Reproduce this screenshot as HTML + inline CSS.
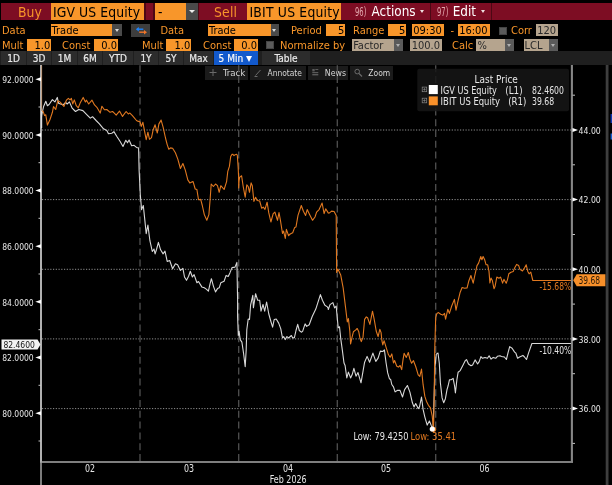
<!DOCTYPE html>
<html><head><meta charset="utf-8"><title>Chart</title>
<style>
html,body{margin:0;padding:0;background:#000;}
body{width:612px;height:485px;position:relative;overflow:hidden;font-family:"DejaVu Sans Condensed","DejaVu Sans","Liberation Sans",sans-serif;color:#fff;}
.a{position:absolute;white-space:nowrap;}
.o{color:#f8962a;}
.ob{background:#f8962a;color:#000;}
.gb{background:#b5a48e;color:#2a2a2a;}
.dd{background:#4a4a4a;}
.t1{font-size:13.8px;line-height:19px;height:17.6px;top:2.7px;}
.t2{font-size:11px;line-height:14px;height:12px;}
.r3{line-height:13px;}
.tab{font-size:10px;line-height:15.4px;height:13.8px;top:51.3px;overflow:hidden;-webkit-text-stroke:0.2px #e8e8e8;color:#e8e8e8;text-align:center;}
.tb{font-size:8px;line-height:12px;height:12px;top:67px;color:#ddd;background:#1c1c1c;}
svg text{font-family:"DejaVu Sans Condensed","DejaVu Sans","Liberation Sans",sans-serif;}
</style></head><body>

<div class="a" style="left:1px;top:2.7px;width:611px;height:17.6px;background:#7d0d23;"></div>
<div class="a" style="left:144px;top:2.7px;width:1.6px;height:17.6px;background:#4c0814;"></div>
<div class="a" style="left:153.4px;top:2.7px;width:1.6px;height:17.6px;background:#4c0814;"></div>
<div class="a" style="left:197.6px;top:2.7px;width:1.6px;height:17.6px;background:#4c0814;"></div>
<div class="a" style="left:430.2px;top:2.7px;width:1.2px;height:17.6px;background:#4c0814;"></div>
<div class="a" style="left:491px;top:2.7px;width:1.2px;height:17.6px;background:#4c0814;"></div>
<div class="a t1 o" style="left:18px;">Buy</div>
<div class="a t1 ob" style="left:50.6px;width:93.4px;"><span style="padding-left:2.4px;letter-spacing:0.1px">IGV US Equity</span></div>
<div class="a t1 ob" style="left:155px;width:30.6px;"><span style="padding-left:3px">-</span></div>
<div class="a t1 dd" style="left:185.6px;width:12px;"><span class="a" style="left:3px;top:7.5px;border:3px solid transparent;border-top:3.5px solid #eee;border-bottom:0;"></span></div>
<div class="a t1 o" style="left:214px;letter-spacing:0.2px">Sell</div>
<div class="a t1 ob" style="left:246.5px;width:94.6px;"><span style="padding-left:3px;letter-spacing:0.2px">IBIT US Equity</span></div>
<div class="a t1" style="left:355.2px;top:2px;color:#e4a8ae;font-size:13px;transform:scaleX(0.58);transform-origin:0 0;">96)</div>
<div class="a t1" style="left:371.6px;top:2px;font-size:13.4px;">Actions</div>
<div class="a" style="left:420.4px;top:10.2px;border:2.3px solid transparent;border-top:3px solid #f0e0e0;border-bottom:0;"></div>
<div class="a t1" style="left:436.7px;top:2px;color:#e4a8ae;font-size:13px;transform:scaleX(0.58);transform-origin:0 0;">97)</div>
<div class="a t1" style="left:452.7px;top:2px;font-size:13.4px;">Edit</div>
<div class="a" style="left:481px;top:10.2px;border:2.3px solid transparent;border-top:3px solid #f0e0e0;border-bottom:0;"></div>
<div class="a t2 o" style="left:2px;top:24.2px;">Data</div>
<div class="a t2 ob" style="left:50.6px;top:24.2px;width:61.6px;height:12px;text-align:left;box-sizing:border-box;padding-left:1px;">Trade</div>
<div class="a" style="left:112.2px;top:24.2px;width:9.8px;height:12px;background:#4a4a4a;"><span class="a" style="left:2.4px;top:5px;border:2.5px solid transparent;border-top:3px solid #ddd;border-bottom:0;"></span></div>
<div class="a" style="left:131px;top:24.2px;width:19.4px;height:12.4px;background:#3d3d3d;"><svg style="display:block" width="19.4" height="12.4" viewBox="0 0 19.4 12.4"><path d="M6.5 5.2H12.3" stroke="#1e86ff" stroke-width="1.4" fill="none"/><path d="M4.8 5.2l3-2.3v4.6z" fill="#1e86ff"/><path d="M8.2 8.2H14" stroke="#f0762a" stroke-width="1.4" fill="none"/><path d="M16 8.2l-3-2.3v4.6z" fill="#f0762a"/></svg></div>
<div class="a t2 o" style="left:160.4px;top:24.2px;">Data</div>
<div class="a t2 ob" style="left:208px;top:24.2px;width:62.7px;height:12px;text-align:left;box-sizing:border-box;padding-left:1px;">Trade</div>
<div class="a" style="left:270.7px;top:24.2px;width:8.3px;height:12px;background:#4a4a4a;"><span class="a" style="left:1.65px;top:5px;border:2.5px solid transparent;border-top:3px solid #ddd;border-bottom:0;"></span></div>
<div class="a t2 o" style="left:291px;top:24.2px;">Period</div>
<div class="a t2 ob" style="left:326.4px;top:24.2px;width:19px;height:12px;text-align:right;box-sizing:border-box;padding-right:1px;">5</div>
<div class="a t2 o" style="left:353px;top:24.2px;">Range</div>
<div class="a t2 ob" style="left:387.5px;top:24.2px;width:18.8px;height:12px;text-align:right;box-sizing:border-box;padding-right:1px;">5</div>
<div class="a t2 ob" style="left:411.7px;top:24.2px;width:32.7px;height:12px;text-align:center;box-sizing:border-box;padding-right:1px;">09:30</div>
<div class="a t2 o" style="left:450.5px;top:24.2px;">-</div>
<div class="a t2 ob" style="left:457.5px;top:24.2px;width:32.8px;height:12px;text-align:center;box-sizing:border-box;padding-right:1px;">16:00</div>
<div class="a" style="left:498.6px;top:27px;width:8px;height:8px;background:#5a5a5a;border:1px solid #444;box-sizing:border-box;"></div>
<div class="a t2 o" style="left:511px;top:24.2px;">Corr</div>
<div class="a t2 gb" style="left:536px;top:24.2px;width:22.3px;height:12px;text-align:center;box-sizing:border-box;padding-right:1px;">120</div>
<div class="a t2 o r3" style="left:2px;top:38.7px;">Mult</div>
<div class="a t2 ob r3" style="left:27px;top:38.7px;width:24.3px;height:12px;text-align:right;box-sizing:border-box;padding-right:1px;">1.0</div>
<div class="a t2 o r3" style="left:62px;top:38.7px;">Const</div>
<div class="a t2 ob r3" style="left:94px;top:38.7px;width:24px;height:12px;text-align:right;box-sizing:border-box;padding-right:1px;">0.0</div>
<div class="a t2 o r3" style="left:142px;top:38.7px;">Mult</div>
<div class="a t2 ob r3" style="left:166.3px;top:38.7px;width:25px;height:12px;text-align:right;box-sizing:border-box;padding-right:1px;">1.0</div>
<div class="a t2 o r3" style="left:203px;top:38.7px;">Const</div>
<div class="a t2 ob r3" style="left:234px;top:38.7px;width:24px;height:12px;text-align:right;box-sizing:border-box;padding-right:1px;">0.0</div>
<div class="a" style="left:266.2px;top:40.5px;width:8px;height:8px;background:#5a5a5a;border:1px solid #444;box-sizing:border-box;"></div>
<div class="a t2 o r3" style="left:280px;top:38.7px;">Normalize by</div>
<div class="a t2 gb r3" style="left:352.2px;top:38.7px;width:42.2px;height:12px;text-align:left;box-sizing:border-box;padding-left:1px;">Factor</div>
<div class="a" style="left:394.4px;top:38.7px;width:9px;height:12px;background:#5a5a5a;"><span class="a" style="left:2px;top:5px;border:2.5px solid transparent;border-top:3px solid #b0b0b0;border-bottom:0;"></span></div>
<div class="a t2 gb r3" style="left:410.3px;top:38.7px;width:32px;height:12px;text-align:center;box-sizing:border-box;padding-right:1px;">100.0</div>
<div class="a t2 o r3" style="left:452px;top:38.7px;">Calc</div>
<div class="a t2 gb r3" style="left:476.4px;top:38.7px;width:28.6px;height:12px;text-align:left;box-sizing:border-box;padding-left:1px;">%</div>
<div class="a" style="left:505px;top:38.7px;width:9px;height:12px;background:#5a5a5a;"><span class="a" style="left:2px;top:5px;border:2.5px solid transparent;border-top:3px solid #b0b0b0;border-bottom:0;"></span></div>
<div class="a t2 gb r3" style="left:523.6px;top:38.7px;width:25.8px;height:12px;text-align:left;box-sizing:border-box;padding-left:1px;">LCL</div>
<div class="a" style="left:549.4px;top:38.7px;width:9px;height:12px;background:#5a5a5a;"><span class="a" style="left:2px;top:5px;border:2.5px solid transparent;border-top:3px solid #b0b0b0;border-bottom:0;"></span></div>
<div class="a" style="left:0;top:51.3px;width:612px;height:13.8px;background:#1f1f1f;"></div>
<div class="a tab" style="left:1px;width:25px;background:#2c2c2c;">1D</div>
<div class="a tab" style="left:27px;width:24px;background:#2c2c2c;">3D</div>
<div class="a tab" style="left:52px;width:25px;background:#2c2c2c;">1M</div>
<div class="a tab" style="left:78px;width:24px;background:#2c2c2c;">6M</div>
<div class="a tab" style="left:103px;width:30px;background:#2c2c2c;">YTD</div>
<div class="a tab" style="left:134px;width:24px;background:#2c2c2c;">1Y</div>
<div class="a tab" style="left:159px;width:24px;background:#2c2c2c;">5Y</div>
<div class="a tab" style="left:184px;width:29px;background:#2c2c2c;">Max</div>
<div class="a tab" style="left:214.4px;width:43.2px;background:#1259cc;color:#fff;text-align:left;"><span style="padding-left:4.2px">5 Min</span><span class="a" style="left:32px;top:4.4px;border:3.5px solid transparent;border-top:6px solid #fff;border-bottom:0;"></span></div>
<div class="a tab" style="left:262px;width:48px;background:#2c2c2c;">Table</div>
<div class="a" style="left:205px;top:66px;width:42.8px;height:13.6px;background:#1b1b1b;"></div>
<div class="a" style="left:249.8px;top:66px;width:56.2px;height:13.6px;background:#1b1b1b;"></div>
<div class="a" style="left:307.8px;top:66px;width:40.4px;height:13.6px;background:#1b1b1b;"></div>
<div class="a" style="left:349.8px;top:66px;width:43.2px;height:13.6px;background:#1b1b1b;"></div>
<svg class="a" style="left:0;top:0" width="612" height="485" viewBox="0 0 612 485">
<g stroke="#6a6a6a" stroke-width="1" fill="none"><path d="M213 69v7M209.5 72.5h7"/><path d="M255.5 75.5l5-5.5M254.5 76.5h3"/><circle cx="357.2" cy="71.6" r="2.3"/><path d="M359 73.5l3 3" stroke-width="1.3"/></g>
<g fill="#5a5a5a"><rect x="312.3" y="69" width="2.4" height="2.4"/><rect x="315.3" y="69" width="3" height="1"/><rect x="312.3" y="72" width="6" height="1.2"/><rect x="312.3" y="74" width="6" height="1.4"/></g>
<text transform="translate(222.9 75.6) scale(1.069 1)" font-size="9" fill="#d6d6d6" text-anchor="start" xml:space="preserve">Track</text>
<text transform="translate(267.5 75.6) scale(0.931 1)" font-size="9" fill="#d6d6d6" text-anchor="start" xml:space="preserve">Annotate</text>
<text transform="translate(324.8 75.6) scale(0.973 1)" font-size="9" fill="#d6d6d6" text-anchor="start" xml:space="preserve">News</text>
<text transform="translate(368.3 75.6) scale(0.938 1)" font-size="9" fill="#d6d6d6" text-anchor="start" xml:space="preserve">Zoom</text>
<line x1="42" x2="572" y1="130.0" y2="130.0" stroke="#909090" stroke-width="1" stroke-dasharray="1.2 1.55"/>
<line x1="42" x2="572" y1="199.6" y2="199.6" stroke="#909090" stroke-width="1" stroke-dasharray="1.2 1.55"/>
<line x1="42" x2="572" y1="269.3" y2="269.3" stroke="#909090" stroke-width="1" stroke-dasharray="1.2 1.55"/>
<line x1="42" x2="572" y1="338.9" y2="338.9" stroke="#909090" stroke-width="1" stroke-dasharray="1.2 1.55"/>
<line x1="42" x2="572" y1="408.6" y2="408.6" stroke="#909090" stroke-width="1" stroke-dasharray="1.2 1.55"/>
<line x1="140.0" x2="140.0" y1="461" y2="65" stroke="#505050" stroke-width="1.3" stroke-dasharray="7 3.8"/>
<line x1="238.7" x2="238.7" y1="461" y2="65" stroke="#505050" stroke-width="1.3" stroke-dasharray="7 3.8"/>
<line x1="337.3" x2="337.3" y1="461" y2="65" stroke="#505050" stroke-width="1.3" stroke-dasharray="7 3.8"/>
<line x1="435.7" x2="435.7" y1="461" y2="65" stroke="#505050" stroke-width="1.3" stroke-dasharray="7 3.8"/>
<polyline fill="none" stroke="#d8d8d8" stroke-width="1.1" stroke-linejoin="round" points="41.3,118.9 41.7,114.8 43.6,106.5 45.8,101.2 47.4,105.7 49.1,104.5 52.4,99.6 54.9,101.9 57.3,97.4 58.5,103.2 60.6,104.0 63.1,104.9 65.6,102.4 67.2,104.0 69.4,101.9 72.2,108.2 75.5,111.5 78.8,109.5 82.9,110.6 87.0,114.8 90.3,118.1 92.5,116.7 96.1,120.5 99.4,123.8 103.5,128.8 106.8,130.4 108.5,133.7 111.8,133.2 113.9,131.6 116.7,136.2 120.0,141.2 123.0,146.4 125.8,140.3 127.5,142.8 129.1,140.0 131.6,145.8 134.1,145.3 136.5,147.4 138.7,148.1 138.6,147.9 139.1,170.0 139.6,179.9 140.3,194.8 141.6,209.6 143.3,205.5 144.6,217.9 146.2,233.6 147.9,225.0 149.9,240.7 152.3,251.5 154.0,249.0 155.1,253.9 156.5,249.5 158.4,242.4 160.6,249.8 163.1,253.9 165.0,251.1 167.2,261.4 169.7,260.5 172.6,268.8 175.4,263.8 177.6,264.7 180.4,270.4 182.9,268.3 184.5,277.0 186.5,280.3 188.6,276.2 190.3,271.3 192.4,277.0 194.1,274.6 196.9,282.8 198.5,281.5 201.8,286.9 204.3,287.8 206.3,289.1 208.4,291.1 210.1,283.6 211.4,278.7 213.4,286.1 215.5,291.9 217.5,288.6 219.2,287.8 220.8,282.8 224.1,281.2 226.1,275.4 228.2,276.5 229.9,272.9 232.0,267.6 235.0,267.1 236.9,262.4 237.6,299.5 237.6,316.5 238.3,335.5 239.1,331.4 240.2,339.6 241.9,342.1 243.5,352.8 245.2,366.8 246.2,349.5 246.8,329.7 248.2,319.0 249.5,319.5 250.6,305.0 251.5,301.2 252.8,295.4 253.4,307.8 255.6,293.7 257.7,300.3 259.7,300.3 261.0,311.1 263.0,304.5 264.7,311.1 266.6,302.0 268.8,314.0 270.9,321.5 272.6,327.2 274.2,319.5 276.2,319.0 278.7,323.1 280.8,328.9 282.5,338.0 283.6,336.6 285.3,339.6 286.9,336.6 288.6,338.0 291.4,335.5 292.7,338.0 294.4,337.6 296.0,330.5 297.7,324.4 299.3,330.5 301.3,332.2 302.6,331.4 305.1,323.9 306.7,326.4 309.2,324.8 312.2,316.5 315.8,309.1 320.4,294.6 322.4,300.3 324.9,305.3 327.4,306.9 328.3,308.6 328.3,309.5 330.0,304.6 332.9,302.6 334.6,307.9 336.2,306.2 337.4,319.4 338.2,327.7 339.5,326.8 340.7,338.3 342.3,349.8 344.0,363.0 345.1,365.5 346.8,377.9 348.4,372.1 350.6,377.9 352.2,374.6 353.9,368.3 356.0,376.2 358.0,372.6 361.0,382.8 363.0,371.3 364.6,362.2 367.1,356.4 369.6,362.2 372.9,353.1 375.8,361.4 378.1,358.1 380.3,351.1 382.8,351.5 384.4,349.8 386.1,363.0 387.7,372.9 389.4,378.7 390.7,379.5 391.8,384.5 393.5,386.9 395.1,391.9 397.6,390.2 400.0,390.4 402.5,397.0 404.6,389.6 407.4,385.5 409.9,392.1 412.4,402.8 414.0,406.9 415.7,403.6 418.2,408.6 419.5,406.9 421.5,397.0 423.1,409.4 424.8,416.8 427.2,425.1 429.4,421.0 431.4,425.9 433.0,428.9 434.0,399.5 435.0,366.5 436.3,354.1 438.0,353.0 439.3,363.2 440.4,383.0 442.1,397.9 443.7,402.8 445.4,398.7 447.0,389.6 448.2,385.5 449.5,379.7 451.2,379.7 453.1,378.4 454.5,385.5 455.4,392.9 456.9,379.7 458.1,372.3 460.2,370.6 462.7,365.7 465.2,360.7 466.5,359.6 468.5,364.0 471.0,365.7 472.6,364.9 475.1,359.9 477.6,364.0 479.2,361.6 480.9,356.6 482.5,358.3 485.0,357.4 487.5,358.3 489.1,355.8 491.1,359.1 493.2,357.4 495.7,358.3 497.4,356.3 500.0,355.8 501.4,356.5 504.4,357.0 506.4,359.5 508.0,352.9 509.7,346.6 512.1,348.3 514.6,352.1 515.9,353.2 517.6,358.2 519.6,357.0 522.9,355.4 524.5,357.0 526.5,359.5 528.6,352.9 531.9,343.5 572.0,343.5"/>
<polyline fill="none" stroke="#e07820" stroke-width="1.1" stroke-linejoin="round" points="41.3,111.5 43.0,111.1 44.6,115.6 45.8,114.8 47.4,125.1 49.9,119.7 52.4,112.3 53.5,106.5 55.7,109.5 57.8,100.7 59.8,101.9 62.3,104.5 63.9,106.5 66.4,100.2 68.4,98.3 70.0,99.9 71.4,98.3 72.7,104.0 74.3,99.9 76.3,105.7 78.3,107.8 80.4,102.4 83.2,97.4 85.4,101.9 86.5,100.2 88.7,104.0 92.0,100.2 94.5,104.9 96.9,107.3 100.2,113.1 101.9,106.2 104.4,109.8 106.8,109.5 110.1,112.3 112.6,111.5 114.3,113.1 116.2,115.1 119.5,111.1 122.5,116.4 126.1,111.5 128.3,113.9 129.9,113.1 132.4,115.6 136.5,120.5 137.5,121.1 140.0,121.8 141.3,126.4 142.9,122.3 144.6,131.4 146.2,139.6 147.9,132.2 149.5,139.3 151.5,137.6 153.2,129.7 155.1,124.8 157.3,133.0 158.9,123.9 161.1,120.1 163.1,127.2 165.5,138.0 167.2,144.6 168.8,149.2 170.5,147.9 172.6,148.2 175.4,152.8 177.9,159.4 180.4,168.5 182.9,163.5 185.3,170.1 187.8,179.9 189.8,182.9 191.9,181.9 193.1,181.6 195.2,189.0 196.9,189.5 198.5,199.7 200.7,199.4 202.3,205.5 204.3,214.6 206.8,220.3 208.9,214.6 210.1,199.7 211.2,184.0 213.4,186.5 215.5,184.0 217.5,185.7 219.2,192.3 220.8,185.7 224.1,189.5 226.6,181.6 227.8,171.3 229.4,166.4 230.7,156.5 231.9,154.4 232.7,154.2 234.0,155.7 235.2,154.7 236.6,154.2 237.3,155.3 237.7,160.6 238.2,168.2 238.6,176.5 238.7,188.0 239.1,180.6 239.6,177.4 241.6,175.8 243.2,186.5 245.2,197.2 246.8,184.9 248.2,186.5 249.5,192.3 251.1,182.9 252.3,185.7 253.9,201.4 255.6,197.2 257.2,200.5 259.7,201.0 261.7,208.3 263.3,207.1 265.0,209.3 267.1,202.2 268.8,212.9 270.9,222.0 273.2,213.7 274.9,212.1 277.5,220.3 279.0,212.6 280.3,219.5 282.5,233.5 283.6,231.1 285.3,238.5 286.4,229.4 288.6,235.7 290.2,234.0 292.7,232.7 294.7,227.4 296.0,226.9 298.0,215.4 301.3,205.5 303.4,211.3 305.6,215.4 307.2,209.6 309.2,213.7 312.5,220.3 315.0,217.0 316.6,212.1 319.1,209.6 322.1,203.0 324.1,213.7 325.7,208.8 328.2,212.9 329.1,213.1 331.6,211.1 334.1,211.5 336.2,215.6 336.6,269.2 336.6,272.4 337.9,269.1 340.7,274.9 343.2,288.1 345.6,307.9 347.3,321.9 348.4,318.6 349.8,331.0 350.6,344.0 352.2,336.6 353.4,331.8 355.5,330.1 357.2,328.5 358.8,331.8 360.0,338.3 361.3,341.6 363.0,337.4 364.6,319.4 366.3,316.9 367.6,317.8 369.9,324.4 372.5,311.2 374.2,319.4 376.2,331.0 378.1,336.7 379.8,329.3 381.1,332.6 381.9,340.7 382.8,344.9 384.1,340.7 386.1,347.3 388.5,354.8 390.2,357.2 391.8,353.9 393.5,363.0 394.6,360.5 396.8,366.3 398.4,367.1 400.1,365.5 401.7,369.6 403.0,359.9 404.1,353.3 406.3,357.4 408.3,352.5 409.9,359.1 411.6,363.2 413.5,360.7 415.7,366.5 418.2,374.8 419.8,376.4 421.5,369.0 423.1,384.7 424.8,396.2 426.4,401.2 428.4,405.3 430.5,407.8 432.2,416.0 433.5,428.9 434.2,399.5 434.7,350.0 435.7,317.6 436.9,313.4 438.5,312.6 440.7,314.3 442.8,315.1 444.5,313.4 445.6,319.2 447.8,309.3 449.4,313.4 451.7,306.0 454.4,299.4 456.0,310.1 458.0,301.1 460.0,292.8 462.1,287.5 464.6,288.2 467.1,287.9 468.7,281.3 470.9,275.5 473.2,283.2 474.8,275.5 477.0,265.6 478.6,263.1 480.8,256.5 481.9,259.8 483.1,256.5 484.7,259.8 486.1,264.8 487.7,264.8 489.0,271.4 489.9,282.9 491.0,278.0 492.3,280.4 494.0,288.7 495.1,286.2 496.8,277.1 498.9,278.3 500.6,277.1 502.6,283.2 503.9,279.3 506.2,283.2 507.5,279.6 508.8,273.8 511.0,272.2 513.3,271.4 514.6,268.1 516.6,264.4 518.7,265.6 519.9,269.4 522.5,271.0 524.2,268.4 526.2,264.8 527.8,271.4 529.1,273.8 530.8,272.2 532.8,280.5 572.0,280.5"/>
<line x1="41" x2="41" y1="65" y2="462" stroke="#b0b0b0" stroke-width="2"/>
<line x1="41" x2="41" y1="462" y2="485" stroke="#7c7c7c" stroke-width="2"/>
<line x1="40" x2="573" y1="462" y2="462" stroke="#a8a8a8" stroke-width="1.7"/>
<line x1="571.9" x2="571.9" y1="65" y2="462" stroke="#868686" stroke-width="2.1"/>
<line x1="607.1" x2="607.1" y1="65" y2="485" stroke="#3e3e3e" stroke-width="2.8"/>
<line x1="41.7" x2="41.7" y1="65.5" y2="111" stroke="#d08a50" stroke-width="0.9" stroke-opacity="0.6"/>
<line x1="41.7" x2="41.7" y1="111" y2="128" stroke="#e8e8e8" stroke-width="1"/>
<path d="M41 77.2 L35.3 79.2 L41 81.2z" fill="#fff"/>
<text transform="translate(2.2 83.1) scale(0.892 1)" font-size="9.5" fill="#e6e6e6" text-anchor="start" xml:space="preserve">92.0000</text>
<path d="M41 132.9 L35.3 134.9 L41 136.9z" fill="#fff"/>
<text transform="translate(2.2 138.8) scale(0.892 1)" font-size="9.5" fill="#e6e6e6" text-anchor="start" xml:space="preserve">90.0000</text>
<path d="M41 188.5 L35.3 190.5 L41 192.5z" fill="#fff"/>
<text transform="translate(2.2 194.4) scale(0.892 1)" font-size="9.5" fill="#e6e6e6" text-anchor="start" xml:space="preserve">88.0000</text>
<path d="M41 244.2 L35.3 246.2 L41 248.2z" fill="#fff"/>
<text transform="translate(2.2 250.1) scale(0.892 1)" font-size="9.5" fill="#e6e6e6" text-anchor="start" xml:space="preserve">86.0000</text>
<path d="M41 299.8 L35.3 301.8 L41 303.8z" fill="#fff"/>
<text transform="translate(2.2 305.7) scale(0.892 1)" font-size="9.5" fill="#e6e6e6" text-anchor="start" xml:space="preserve">84.0000</text>
<path d="M41 355.5 L35.3 357.5 L41 359.5z" fill="#fff"/>
<text transform="translate(2.2 361.4) scale(0.892 1)" font-size="9.5" fill="#e6e6e6" text-anchor="start" xml:space="preserve">82.0000</text>
<path d="M41 411.2 L35.3 413.2 L41 415.2z" fill="#fff"/>
<text transform="translate(2.2 417.1) scale(0.892 1)" font-size="9.5" fill="#e6e6e6" text-anchor="start" xml:space="preserve">80.0000</text>
<line x1="38.5" x2="41" y1="107.0" y2="107.0" stroke="#c4c4c4" stroke-width="1"/>
<line x1="38.5" x2="41" y1="162.7" y2="162.7" stroke="#c4c4c4" stroke-width="1"/>
<line x1="38.5" x2="41" y1="218.3" y2="218.3" stroke="#c4c4c4" stroke-width="1"/>
<line x1="38.5" x2="41" y1="274.0" y2="274.0" stroke="#c4c4c4" stroke-width="1"/>
<line x1="38.5" x2="41" y1="329.7" y2="329.7" stroke="#c4c4c4" stroke-width="1"/>
<line x1="38.5" x2="41" y1="385.3" y2="385.3" stroke="#c4c4c4" stroke-width="1"/>
<line x1="38.5" x2="41" y1="441.0" y2="441.0" stroke="#c4c4c4" stroke-width="1"/>
<path d="M572.5 128.0 L578 130.0 L572.5 132.0z" fill="#fff"/>
<text transform="translate(578.6 133.7) scale(0.908 1)" font-size="9.5" fill="#e6e6e6" text-anchor="start" xml:space="preserve">44.00</text>
<path d="M572.5 197.6 L578 199.6 L572.5 201.6z" fill="#fff"/>
<text transform="translate(578.6 203.3) scale(0.908 1)" font-size="9.5" fill="#e6e6e6" text-anchor="start" xml:space="preserve">42.00</text>
<path d="M572.5 267.3 L578 269.3 L572.5 271.3z" fill="#fff"/>
<text transform="translate(578.6 273.0) scale(0.908 1)" font-size="9.5" fill="#e6e6e6" text-anchor="start" xml:space="preserve">40.00</text>
<path d="M572.5 336.9 L578 338.9 L572.5 340.9z" fill="#fff"/>
<text transform="translate(578.6 342.6) scale(0.908 1)" font-size="9.5" fill="#e6e6e6" text-anchor="start" xml:space="preserve">38.00</text>
<path d="M572.5 406.6 L578 408.6 L572.5 410.6z" fill="#fff"/>
<text transform="translate(578.6 412.3) scale(0.908 1)" font-size="9.5" fill="#e6e6e6" text-anchor="start" xml:space="preserve">36.00</text>
<line x1="572.5" x2="575" y1="95.2" y2="95.2" stroke="#c4c4c4" stroke-width="1"/>
<line x1="572.5" x2="575" y1="164.8" y2="164.8" stroke="#c4c4c4" stroke-width="1"/>
<line x1="572.5" x2="575" y1="234.5" y2="234.5" stroke="#c4c4c4" stroke-width="1"/>
<line x1="572.5" x2="575" y1="304.1" y2="304.1" stroke="#c4c4c4" stroke-width="1"/>
<line x1="572.5" x2="575" y1="373.7" y2="373.7" stroke="#c4c4c4" stroke-width="1"/>
<line x1="572.5" x2="575" y1="443.4" y2="443.4" stroke="#c4c4c4" stroke-width="1"/>
<path d="M1.5 339.5H37.5L40.5 344.5L37.5 349.5H1.5z" fill="#f2f2f2"/>
<text transform="translate(3.4 348.3) scale(0.892 1)" font-size="9.5" fill="#111" text-anchor="start" xml:space="preserve">82.4600</text>
<path d="M605.4 274.2H576.7L573.2 280.3L576.7 286.3H605.4z" fill="#f8902a"/>
<text transform="translate(578.5 284.1) scale(0.856 1)" font-size="9.8" fill="#2a1a08" text-anchor="start" xml:space="preserve">39.68</text>
<text transform="translate(539.5 289.8) scale(0.845 1)" font-size="10" fill="#e07820" text-anchor="start" xml:space="preserve">-15.68%</text>
<text transform="translate(539.5 353.7) scale(0.845 1)" font-size="10" fill="#e4e4e4" text-anchor="start" xml:space="preserve">-10.40%</text>
<circle cx="433.6" cy="429.3" r="2.6" fill="#e07820"/>
<circle cx="432.3" cy="429" r="2.6" fill="#fff"/>
<text transform="translate(353.4 440.2) scale(0.916 1)" font-size="10" fill="#e4e4e4" text-anchor="start" xml:space="preserve">Low: 79.4250</text>
<text transform="translate(410.6 440.2) scale(0.935 1)" font-size="10" fill="#e07820" text-anchor="start" xml:space="preserve">Low: 35.41</text>
<text transform="translate(90.0 471.6) scale(0.880 1)" font-size="10" fill="#e6e6e6" text-anchor="middle" xml:space="preserve">02</text>
<text transform="translate(189.0 471.6) scale(0.880 1)" font-size="10" fill="#e6e6e6" text-anchor="middle" xml:space="preserve">03</text>
<text transform="translate(288.0 471.6) scale(0.880 1)" font-size="10" fill="#e6e6e6" text-anchor="middle" xml:space="preserve">04</text>
<text transform="translate(386.0 471.6) scale(0.880 1)" font-size="10" fill="#e6e6e6" text-anchor="middle" xml:space="preserve">05</text>
<text transform="translate(484.5 471.6) scale(0.880 1)" font-size="10" fill="#e6e6e6" text-anchor="middle" xml:space="preserve">06</text>
<text transform="translate(288.2 482.6) scale(0.889 1)" font-size="10" fill="#e6e6e6" text-anchor="middle" xml:space="preserve">Feb 2026</text>
<rect x="417.3" y="68.7" width="151.7" height="42.6" rx="2" fill="#161616" fill-opacity="0.86"/>
<text transform="translate(496.2 83.4) scale(0.995 1)" font-size="10" fill="#e6e6e6" text-anchor="middle" xml:space="preserve">Last Price</text>
<rect x="428.8" y="85" width="9" height="9.1" fill="#fff"/>
<rect x="428.8" y="96.4" width="9" height="8.9" fill="#f8902a"/>
<g stroke="#8a8a8a" stroke-width="0.7" fill="none"><rect x="422.2" y="87.1" width="4.5" height="4.6"/><path d="M423.2 89.4h2.5M424.45 88.1v2.6"/></g>
<g stroke="#8a8a8a" stroke-width="0.7" fill="none"><rect x="422.2" y="98.2" width="4.5" height="4.6"/><path d="M423.2 100.5h2.5M424.45 99.2v2.6"/></g>
<text transform="translate(440.6 93.7) scale(0.906 1)" font-size="10" fill="#e6e6e6" text-anchor="start" xml:space="preserve">IGV US Equity</text>
<text transform="translate(505.2 93.7) scale(0.980 1)" font-size="10" fill="#e6e6e6" text-anchor="start" xml:space="preserve">(L1)</text>
<text transform="translate(532.0 93.7) scale(0.858 1)" font-size="10" fill="#e6e6e6" text-anchor="start" xml:space="preserve">82.4600</text>
<text transform="translate(440.6 105.2) scale(0.940 1)" font-size="10" fill="#e6e6e6" text-anchor="start" xml:space="preserve">IBIT US Equity</text>
<text transform="translate(508.2 105.2) scale(0.958 1)" font-size="10" fill="#e6e6e6" text-anchor="start" xml:space="preserve">(R1)</text>
<text transform="translate(532.0 105.2) scale(0.862 1)" font-size="10" fill="#e6e6e6" text-anchor="start" xml:space="preserve">39.68</text>
<rect x="610.6" y="114" width="1.4" height="9" fill="#1238b0"/><rect x="610.6" y="133.5" width="1.4" height="6" fill="#1a60d0"/>
</svg>
</body></html>
